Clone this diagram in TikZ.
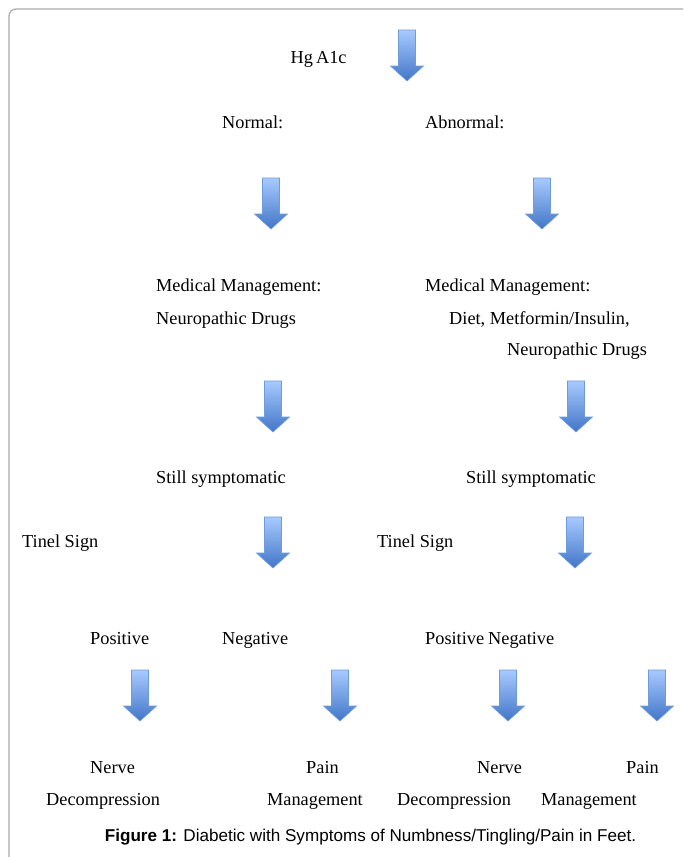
\documentclass[tikz,border=0pt]{standalone}
\usepackage{fontspec}
\setmainfont{Liberation Serif}
\newfontfamily\capfont{Liberation Sans}
\definecolor{arrtop}{RGB}{168,202,255}
\definecolor{arrbot}{RGB}{66,118,200}
\definecolor{arredge}{RGB}{110,155,222}
\definecolor{framegray}{RGB}{170,170,170}
\tikzset{
  lbl/.style={inner sep=0pt, anchor=base west, font=\fontsize{18.3}{22}\selectfont},
  downarr/.pic={
    \path[draw=arredge, line width=0.6pt, top color=arrtop, bottom color=arrbot]
      (-8.5,0) -- (8.5,0) -- (8.5,36) -- (16.5,36) -- (0,51) -- (-16.5,36) -- (-8.5,36) -- cycle;
  }
}
\begin{document}
\begin{tikzpicture}[x=1pt,y=-1pt]
\useasboundingbox (0,0) rectangle (683,857);
\fill[white] (0,0) rectangle (683,857);
% frame
\draw[framegray, line width=1.2pt, rounded corners=7pt] (9,857) -- (9,9) -- (683,9);
% arrows
\pic at (407,30) {downarr};
\pic at (271,178) {downarr};
\pic at (542,178) {downarr};
\pic at (273,381) {downarr};
\pic at (576,381) {downarr};
\pic at (273,517) {downarr};
\pic at (575,517) {downarr};
\pic at (140,670) {downarr};
\pic at (340,670) {downarr};
\pic at (508,670) {downarr};
\pic at (657,670) {downarr};
% labels
\node[lbl] (hba) at (290.5,63) {Hg\,A1c};
\node[lbl] (nor) at (222,128.5) {Normal:};
\node[lbl] (abn) at (425,128.5) {Abnormal:};
\node[lbl] (mmL) at (156,291) {Medical Management:};
\node[lbl] (ndL) at (156,324) {Neuropathic Drugs};
\node[lbl] (mmR) at (425,291) {Medical Management:};
\node[lbl] (dmR) at (449,324) {Diet, Metformin/Insulin,};
\node[lbl] (ndR) at (507,355) {Neuropathic Drugs};
\node[lbl] (ssL) at (156,483) {Still symptomatic};
\node[lbl] (ssR) at (466,483) {Still symptomatic};
\node[lbl] (tsL) at (22,547) {Tinel Sign};
\node[lbl] (tsR) at (377,547) {Tinel Sign};
\node[lbl] (posL) at (90,644) {Positive};
\node[lbl] (negL) at (222,644) {Negative};
\node[lbl] (pnR) at (425,644) {Positive\hspace{4pt}Negative};
\node[lbl] (nv1) at (90,773) {Nerve};
\node[lbl] (dc1) at (46,805) {Decompression};
\node[lbl] (pa1) at (306,773) {Pain};
\node[lbl] (mg1) at (267,805) {Management};
\node[lbl] (nv2) at (477,773) {Nerve};
\node[lbl] (dc2) at (397,805) {Decompression};
\node[lbl] (pa2) at (626,773) {Pain};
\node[lbl] (mg2) at (541,805) {Management};
% caption
\node[inner sep=0pt, anchor=base, font=\capfont\fontsize{17.1}{20}\selectfont] (cap) at (370.5,841)
  {\textbf{Figure 1:} Diabetic with Symptoms of Numbness/Tingling/Pain in Feet.};
\end{tikzpicture}
\end{document}
